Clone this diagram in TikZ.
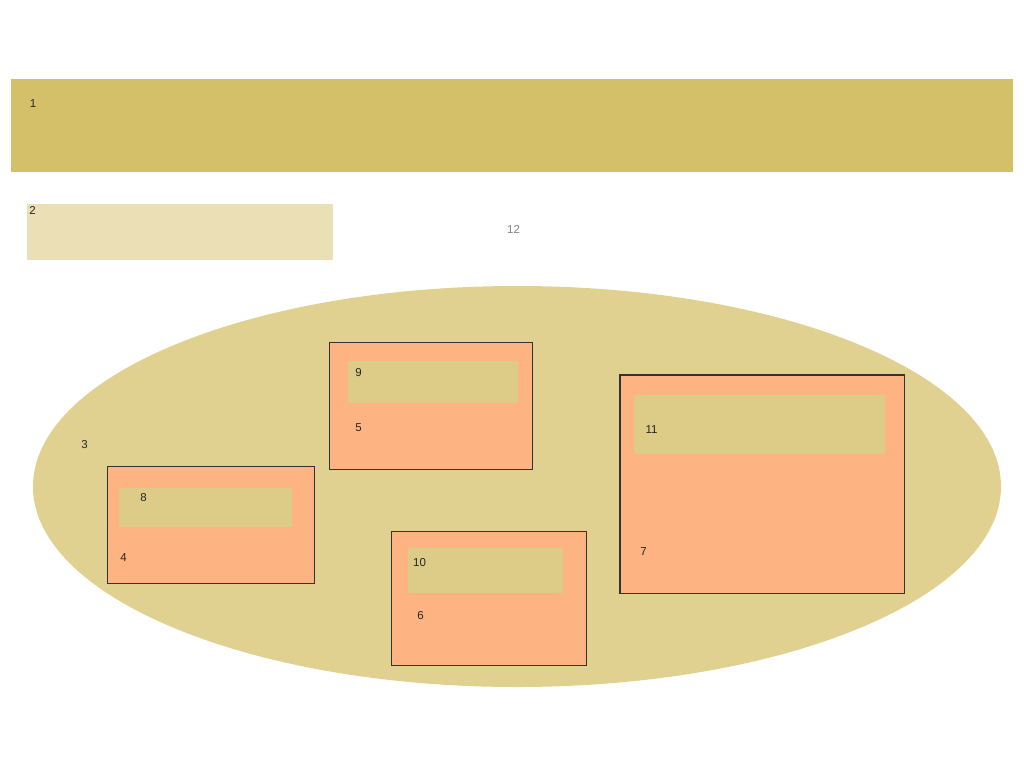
\documentclass[tikz,border=0pt]{standalone}
\usepackage{fontspec}
\setmainfont{Liberation Sans}
\usetikzlibrary{shapes.geometric}
\definecolor{bandc}{HTML}{D5C06A}
\definecolor{lightc}{HTML}{EADFB5}
\definecolor{ellc}{HTML}{E0D191}
\definecolor{boxc}{HTML}{FEB382}
\definecolor{innerc}{HTML}{DDCB88}
\definecolor{edgec}{HTML}{333333}
\begin{document}
\begin{tikzpicture}[x=1pt,y=-1pt,
  lbl/.style={inner sep=0pt,font=\fontsize{11.5}{13}\selectfont,text=black!85},
  outerbox/.style={fill=boxc,draw=edgec,line width=1pt},
  innerbox/.style={fill=innerc,draw=none}]
\useasboundingbox (0,0) rectangle (1024,768);
% band 1
\fill[bandc] (11,79) rectangle (1013,172);
\node[lbl] (n1) at (33,104) {1};
% box 2
\fill[lightc] (27,204) rectangle (333,260);
\node[lbl] (n2) at (32.5,210) {2};
% 12
\node[lbl,text=black!50] (n12) at (513.5,229.5) {12};
% ellipse 3
\node[ellipse,fill=ellc,draw=none,minimum width=968pt,minimum height=401pt,inner sep=0pt] (e3) at (517,486.5) {};
\node[lbl] (n3) at (84.5,444.5) {3};
% box 4 / 8
\draw[outerbox] (107,466) rectangle (314,583);
\fill[innerbox] (119,488) rectangle (292,527);
\node[lbl] (n8) at (143.5,497.5) {8};
\node[lbl] (n4) at (123.5,557.5) {4};
% box 5 / 9
\draw[outerbox] (329,342) rectangle (532,469.5);
\fill[innerbox] (348,361) rectangle (518,403);
\node[lbl] (n9) at (358.5,372.5) {9};
\node[lbl] (n5) at (358.5,427.5) {5};
% box 6 / 10
\draw[outerbox] (391,531) rectangle (586.5,665);
\fill[innerbox] (407.5,548) rectangle (563,593);
\node[lbl] (n10) at (419.5,563) {10};
\node[lbl] (n6) at (420.5,616) {6};
% box 7 / 11
\draw[outerbox,line width=1.4pt] (620,375) rectangle (904.5,593.5);
\fill[innerbox] (634,395) rectangle (884.5,453.5);
\node[lbl] (n11) at (651.5,430) {11};
\node[lbl] (n7) at (643.5,552) {7};
\end{tikzpicture}
\end{document}
